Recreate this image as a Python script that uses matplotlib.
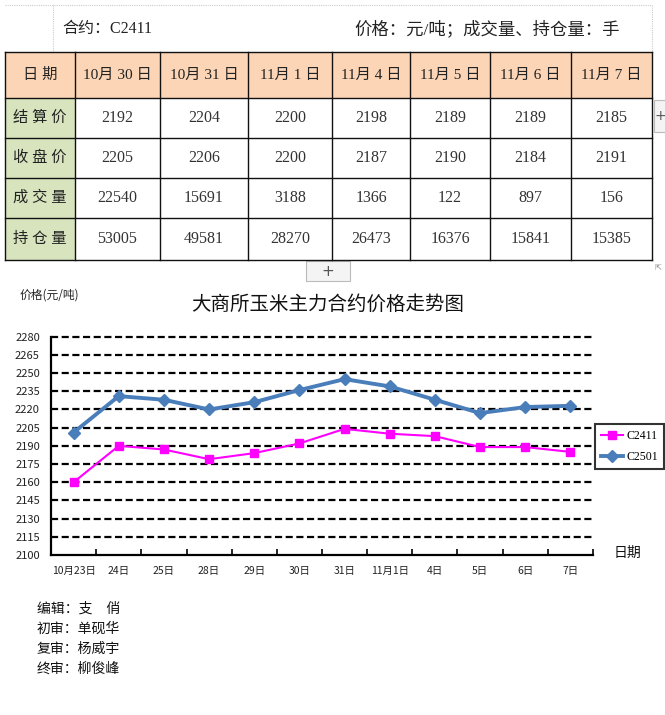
import matplotlib
matplotlib.use("Agg")
import matplotlib.pyplot as plt
from matplotlib.patches import Rectangle

# ---------------- data ----------------
table_dates = ['10月 30 日', '10月 31 日', '11月 1 日', '11月 4 日', '11月 5 日', '11月 6 日', '11月 7 日']
row_labels = ['结算价', '收盘价', '成交量', '持仓量']
settle = [2192, 2204, 2200, 2198, 2189, 2189, 2185]
close = [2205, 2206, 2200, 2187, 2190, 2184, 2191]
volume = [22540, 15691, 3188, 1366, 122, 897, 156]
open_int = [53005, 49581, 28270, 26473, 16376, 15841, 15385]

chart_dates = ['10月23日', '24日', '25日', '28日', '29日', '30日', '31日',
               '11月1日', '4日', '5日', '6日', '7日']
c2411 = [2160, 2190, 2187, 2179, 2184, 2192, 2204, 2200, 2198, 2189, 2189, 2185]
c2501 = [2201, 2231, 2228, 2220, 2226, 2236, 2245, 2239, 2228, 2217, 2222, 2223]
y_ticks = list(range(2100, 2281, 15))

footer = ['编辑：支　俏', '初审：单砚华', '复审：杨威宇', '终审：柳俊峰']

# ---------------- fonts ----------------
SERIF = ['Liberation Serif', 'Noto Sans CJK SC']
SANS = ['Noto Sans CJK SC', 'DejaVu Sans']
plt.rcParams['font.family'] = SANS

W, H = 665, 715
fig = plt.figure(figsize=(W / 100, H / 100), dpi=100)
fig.patch.set_facecolor('white')

ov = fig.add_axes([0, 0, 1, 1])
ov.set_xlim(0, W)
ov.set_ylim(H, 0)
ov.axis('off')
ov.patch.set_visible(False)

# ---- top title row ----
ov.plot([5, 652], [5, 5], color='#cccccc', lw=0.8, ls=(0, (1, 1)))
ov.plot([53, 53], [5, 52], color='#cccccc', lw=0.8, ls=(0, (1, 1)))
ov.plot([652, 652], [5, 52], color='#cccccc', lw=0.8, ls=(0, (1, 1)))
ov.text(62, 29, '合约：C2411', fontsize=11.5, family=SERIF, va='center', ha='left', color='#222222')
ov.text(620, 29, '价格：元/吨；成交量、持仓量：手', fontsize=12.5, family=SERIF, va='center', ha='right', color='#222222')

# ---- table ----
col_x = [5, 75, 160, 248, 332, 410, 490, 571, 652]
row_y = [52, 98, 138, 178, 218, 260]
peach = '#FBD5B5'
green = '#D7E4BD'
for j in range(len(col_x) - 1):
    ov.add_patch(Rectangle((col_x[j], row_y[0]), col_x[j + 1] - col_x[j], row_y[1] - row_y[0],
                           facecolor=peach, edgecolor='none'))
for i in range(1, len(row_y) - 1):
    ov.add_patch(Rectangle((col_x[0], row_y[i]), col_x[1] - col_x[0], row_y[i + 1] - row_y[i],
                           facecolor=green, edgecolor='none'))
for x in col_x:
    ov.plot([x, x], [row_y[0], row_y[-1]], color='#111111', lw=1.0)
for y in row_y:
    ov.plot([col_x[0], col_x[-1]], [y, y], color='#111111', lw=1.0)

def cx(j):
    return (col_x[j] + col_x[j + 1]) / 2

def cy(i):
    return (row_y[i] + row_y[i + 1]) / 2

ov.text(cx(0), cy(0), '日 期', fontsize=11, family=SERIF, ha='center', va='center', color='#222222')
for j, d in enumerate(table_dates):
    ov.text(cx(j + 1), cy(0), d, fontsize=11, family=SERIF, ha='center', va='center', color='#222222')
rows = [settle, close, volume, open_int]
for i, (lab, vals) in enumerate(zip(row_labels, rows)):
    ov.text(cx(0), cy(i + 1), ' '.join(lab), fontsize=11, family=SERIF, ha='center', va='center', color='#222222')
    for j, v in enumerate(vals):
        ov.text(cx(j + 1), cy(i + 1), str(v), fontsize=11.5, family=SERIF, ha='center', va='center', color='#333333')

# "+" button under table
ov.add_patch(Rectangle((306, 261), 44, 20, facecolor='#f4f4f4', edgecolor='#bbbbbb', lw=0.8))
ov.text(328, 271, '+', fontsize=11, ha='center', va='center', color='#555555', family=['DejaVu Sans'])
# right-side UI fragments
ov.add_patch(Rectangle((654, 100), 12, 32, facecolor='#f4f4f4', edgecolor='#bbbbbb', lw=0.8))
ov.text(660, 116, '+', fontsize=10, ha='center', va='center', color='#555555', family=['DejaVu Sans'])
ov.text(658, 268, '⇱', fontsize=6, ha='center', va='center', color='#888888', family=['DejaVu Sans'])

# ---- chart labels ----
ov.text(20, 295, '价格(元/吨)', fontsize=8.5, ha='left', va='center', color='#222222')
ov.text(328, 304, '大商所玉米主力合约价格走势图', fontsize=14, ha='center', va='center', color='#111111')
ov.text(627, 553, '日期', fontsize=10, ha='center', va='center', color='#111111')

for k, t in enumerate(footer):
    ov.text(37, 609 + 20 * k, t, fontsize=10, ha='left', va='center', color='#111111')

# ---------------- chart ----------------
L, R, B, T = 51, 593, 555, 336.7
ax = fig.add_axes([L / W, 1 - B / H, (R - L) / W, (B - T) / H])
ax.set_facecolor('white')
xs = list(range(len(chart_dates)))
ax.set_xlim(-0.5, len(chart_dates) - 0.5)
ax.set_ylim(y_ticks[0], y_ticks[-1])

for yv in y_ticks[1:]:
    ax.axhline(yv, color='black', lw=1.6, ls=(0, (3.2, 1.6)), zorder=1, clip_on=False)

ax.plot(xs, c2411, color='#FF00FF', lw=1.5, marker='s', ms=6, label='C2411', zorder=3)
ax.plot(xs, c2501, color='#4A7EBB', lw=2.8, marker='D', ms=6.5, label='C2501', zorder=3)

for s in ['top', 'right']:
    ax.spines[s].set_visible(False)
ax.spines['left'].set_linewidth(1.6)
ax.spines['bottom'].set_linewidth(1.6)

ax.set_yticks(y_ticks)
ax.set_yticklabels([str(v) for v in y_ticks], fontsize=8, color='#222222')
ax.tick_params(axis='y', length=0, pad=8)

ax.set_xticks(xs)
ax.set_xticklabels(chart_dates, fontsize=7.5, color='#222222')
ax.tick_params(axis='x', which='major', length=0, pad=8)
ax.set_xticks([x + 0.5 for x in xs], minor=True)
ax.tick_params(axis='x', which='minor', direction='in', length=4, width=1.2, color='black')

leg = ax.legend(loc='upper left', bbox_to_anchor=(595 / W, 1 - 424 / H),
                bbox_transform=fig.transFigure, fontsize=8.5, frameon=True,
                fancybox=False, borderaxespad=0, handlelength=1.9, handletextpad=0.3,
                borderpad=0.5, labelspacing=0.8)
leg.get_frame().set_edgecolor('black')
leg.get_frame().set_linewidth(1.5)
for txt in leg.get_texts():
    txt.set_family(SERIF)

fig.savefig('out.png', dpi=100, facecolor='white')
